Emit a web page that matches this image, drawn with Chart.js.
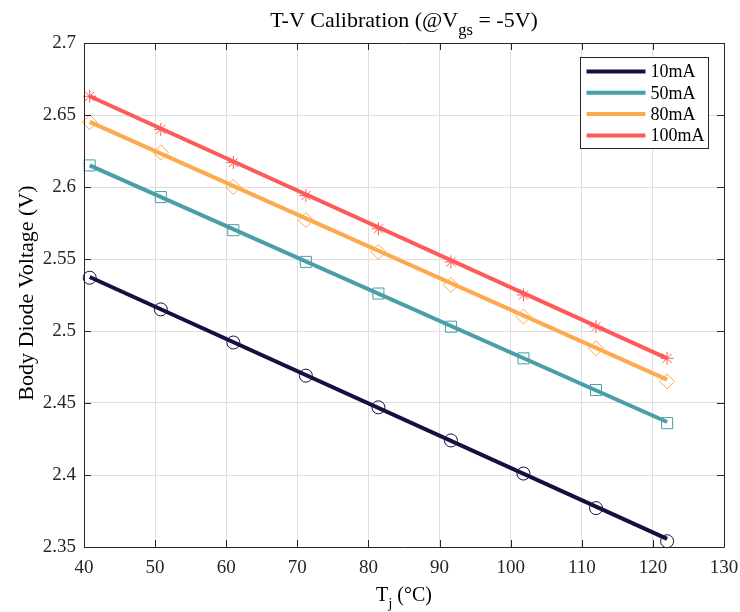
<!DOCTYPE html>
<html>
<head>
<meta charset="utf-8">
<script src="https://cdn.jsdelivr.net/npm/chart.js@4.4.0/dist/chart.umd.min.js"></script>
<style>
  body { margin: 0; background: #fff; }
  #wrap { width: 740px; height: 612px; }
</style>
</head>
<body>
<div id="wrap"><canvas id="chart" width="740" height="612"></canvas></div>
<script>
// measured junction temperatures (°C)
const temps = [40.8, 50.8, 61.0, 71.2, 81.4, 91.6, 101.8, 112.0, 122.0];

// body diode voltage (V) per test current
const v10mA  = [2.537, 2.515, 2.492, 2.469, 2.447, 2.424, 2.401, 2.377, 2.354];
const v50mA  = [2.615, 2.593, 2.570, 2.548, 2.526, 2.503, 2.481, 2.459, 2.436];
const v80mA  = [2.645, 2.624, 2.600, 2.577, 2.555, 2.532, 2.510, 2.488, 2.465];
const v100mA = [2.663, 2.640, 2.617, 2.594, 2.571, 2.548, 2.525, 2.503, 2.481];

// linear fit lines, start/end
const fitT      = [40.8, 122.0];
const fit10mA   = [2.5375, 2.3556];
const fit50mA   = [2.6150, 2.4368];
const fit80mA   = [2.6452, 2.4662];
const fit100mA  = [2.6630, 2.4810];

const seriesNames = ['10mA', '50mA', '80mA', '100mA'];
const colors = ['#1b0c42', '#4a9ea6', '#fdaa4f', '#fd5a5a'];
const markers = ['circle', 'rect', 'rectRot', 'star'];
const markerSize = [6.5, 7.8, 7.5, 6.5];

const xTicks = [40, 50, 60, 70, 80, 90, 100, 110, 120, 130];
const yTicks = [2.35, 2.4, 2.45, 2.5, 2.55, 2.6, 2.65, 2.7];

const FONT = '"Liberation Serif", "Times New Roman", serif';

const pts = (xs, ys) => xs.map((x, i) => ({ x: x, y: ys[i] }));
const allV = [v10mA, v50mA, v80mA, v100mA];
const allFit = [fit10mA, fit50mA, fit80mA, fit100mA];

const datasets = [];
allFit.forEach((f, i) => {
  datasets.push({
    label: seriesNames[i],
    data: pts(fitT, f),
    showLine: true,
    borderColor: colors[i],
    backgroundColor: colors[i],
    borderWidth: 4,
    pointRadius: 0,
    clip: false
  });
});
allV.forEach((v, i) => {
  datasets.push({
    label: seriesNames[i] + ' data',
    data: pts(temps, v),
    showLine: false,
    pointStyle: markers[i],
    pointRadius: markerSize[i],
    pointBorderWidth: 1,
    pointBorderColor: colors[i],
    pointBackgroundColor: 'rgba(0,0,0,0)',
    clip: false
  });
});

// text with a subscript part
function drawSub(ctx, parts, cx, cy, size) {
  let w = 0;
  parts.forEach(p => {
    ctx.font = (p.sub ? size * 0.75 : size) + 'px ' + FONT;
    p.w = ctx.measureText(p.t).width;
    w += p.w;
  });
  let x = cx - w / 2;
  ctx.textAlign = 'left';
  ctx.textBaseline = 'middle';
  parts.forEach(p => {
    ctx.font = (p.sub ? size * 0.75 : size) + 'px ' + FONT;
    ctx.fillText(p.t, x, cy + (p.sub ? size * 0.42 : 0));
    x += p.w;
  });
}

const framePlugin = {
  id: 'frame',
  afterDraw(chart) {
    const ctx = chart.ctx;
    const a = chart.chartArea;
    const xs = chart.scales.x, ys = chart.scales.y;
    ctx.save();
    ctx.strokeStyle = '#262626';
    ctx.lineWidth = 1;
    ctx.beginPath();
    ctx.rect(Math.round(a.left) + 0.5, Math.round(a.top) + 0.5,
      Math.round(a.right - a.left), Math.round(a.bottom - a.top));
    const L = 7;
    xTicks.forEach(t => {
      const px = Math.round(xs.getPixelForValue(t)) + 0.5;
      ctx.moveTo(px, a.bottom); ctx.lineTo(px, a.bottom - L);
      ctx.moveTo(px, a.top); ctx.lineTo(px, a.top + L);
    });
    yTicks.forEach(t => {
      const py = Math.round(ys.getPixelForValue(t)) + 0.5;
      ctx.moveTo(a.left, py); ctx.lineTo(a.left + L, py);
      ctx.moveTo(a.right, py); ctx.lineTo(a.right - L, py);
    });
    ctx.stroke();

    ctx.fillStyle = '#262626';
    ctx.font = '19px ' + FONT;
    ctx.textAlign = 'center';
    ctx.textBaseline = 'middle';
    xTicks.forEach(t => {
      ctx.fillText(String(t), xs.getPixelForValue(t), a.bottom + 21);
    });
    ctx.textAlign = 'right';
    yTicks.forEach(t => {
      ctx.fillText(String(t), a.left - 8, ys.getPixelForValue(t));
    });

    // titles
    const cx = (a.left + a.right) / 2;
    ctx.fillStyle = '#000';
    drawSub(ctx, [{ t: 'T-V Calibration (@V' }, { t: 'gs', sub: true }, { t: ' = -5V)' }], cx, 21, 22);
    drawSub(ctx, [{ t: 'T' }, { t: 'j', sub: true }, { t: ' (°C)' }], cx, 596, 20);
    ctx.save();
    ctx.translate(27, 293);
    ctx.rotate(-Math.PI / 2);
    ctx.font = '22px ' + FONT;
    ctx.textAlign = 'center';
    ctx.textBaseline = 'middle';
    ctx.fillText('Body Diode Voltage (V)', 0, 0);
    ctx.restore();

    // legend
    const bx = 580.5, by = 57.5, bw = 128, bh = 91;
    ctx.fillStyle = '#fff';
    ctx.fillRect(bx, by, bw, bh);
    ctx.strokeStyle = '#262626';
    ctx.strokeRect(bx, by, bw, bh);
    ctx.font = '18px ' + FONT;
    ctx.textAlign = 'left';
    ctx.textBaseline = 'middle';
    seriesNames.forEach((n, i) => {
      const y = by + 14 + i * 21.3;
      ctx.strokeStyle = colors[i];
      ctx.lineWidth = 4;
      ctx.beginPath();
      ctx.moveTo(bx + 6, y); ctx.lineTo(bx + 65, y);
      ctx.stroke();
      ctx.fillStyle = '#000';
      ctx.fillText(n, bx + 70, y + 1);
    });
    ctx.restore();
  }
};

new Chart(document.getElementById('chart'), {
  type: 'scatter',
  data: { datasets: datasets },
  plugins: [framePlugin],
  options: {
    responsive: false,
    devicePixelRatio: 1,
    animation: false,
    layout: { padding: { top: 43, right: 16, left: 0, bottom: 0 } },
    plugins: {
      legend: { display: false },
      title: { display: false },
      tooltip: { enabled: false }
    },
    scales: {
      x: {
        type: 'linear', min: 40, max: 130,
        afterFit(s) { s.height = 65; },
        afterBuildTicks(s) { s.ticks = xTicks.map(v => ({ value: v })); },
        grid: { color: '#dedede', drawTicks: false },
        border: { display: false },
        ticks: { display: false }
      },
      y: {
        type: 'linear', min: 2.35, max: 2.7,
        afterFit(s) { s.width = 84; },
        afterBuildTicks(s) { s.ticks = yTicks.map(v => ({ value: v })); },
        grid: { color: '#dedede', drawTicks: false },
        border: { display: false },
        ticks: { display: false }
      }
    }
  }
});
</script>
</body>
</html>
